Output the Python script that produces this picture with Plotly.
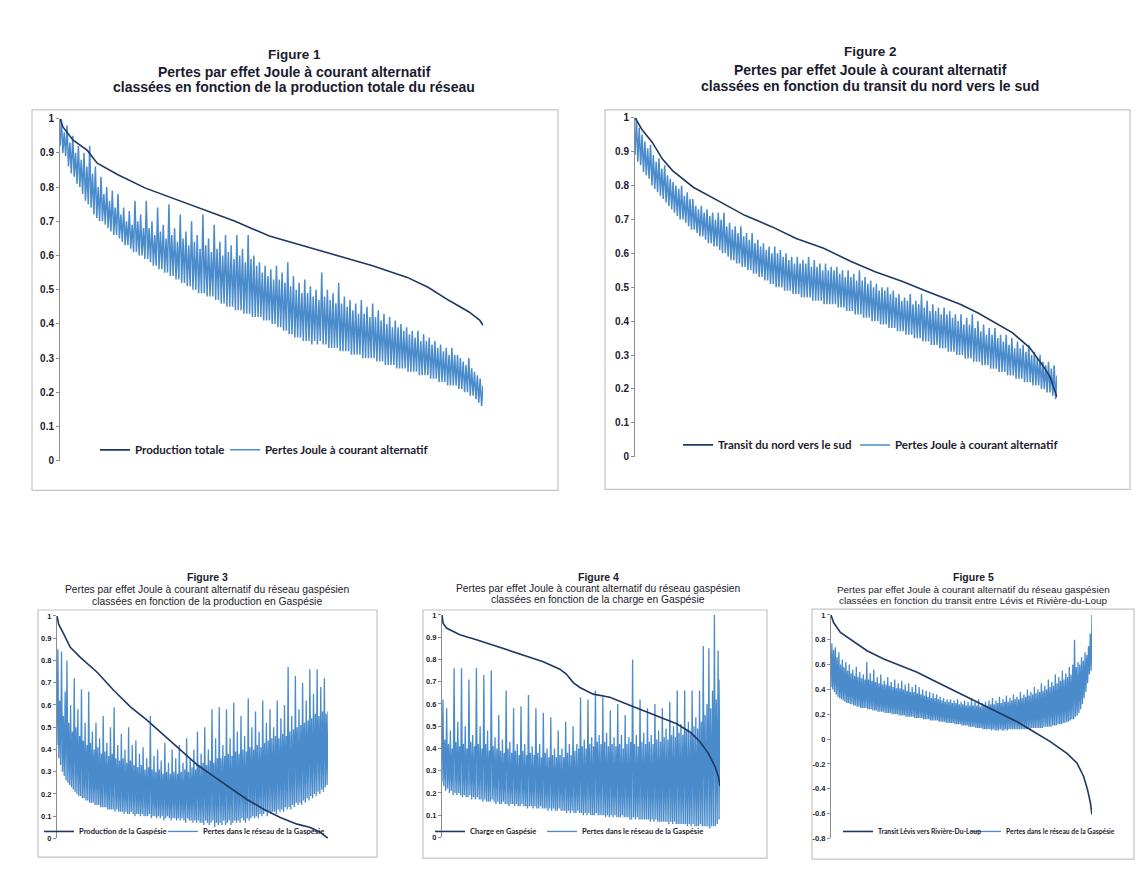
import numpy as np
import plotly.graph_objects as go

W, H = 1146, 876

# ---------------- DATA ----------------
# Figure 1 : production totale (classée) et pertes Joule
f1_prod_x = [0, 0.7, 3.1, 6.4, 8.8, 13.7, 20.2, 27.5, 34.9, 41.4, 49.5, 57.7, 65.8, 73.9, 82.1, 87.0, 91.9, 96.7, 99.2, 100]
f1_prod_y = [1.0, 0.976, 0.937, 0.908, 0.870, 0.836, 0.797, 0.763, 0.729, 0.700, 0.657, 0.628, 0.599, 0.570, 0.536, 0.507, 0.469, 0.435, 0.411, 0.396]
f1_loss = [
    .92, 1.0, .90, .96, .89, .98, .86, .93, .84, .95, .83, .90, .81, .92, .80, .88, .78, .90, .76, .86,
    .75, .92, .74, .84, .72, .86, .71, .80, .70, .83, .70, .78, .69, .80, .68, .76, .67, .79, .66, .74,
    .66, .78, .65, .72, .64, .74, .63, .70, .63, .73, .62, .69, .61, .76, .61, .70, .60, .72, .60, .68,
    .59, .76, .59, .68, .58, .70, .57, .66, .57, .74, .56, .67, .56, .69, .55, .65, .55, .75, .54, .66,
    .54, .68, .53, .64, .53, .72, .52, .65, .52, .67, .51, .63, .51, .70, .50, .64, .50, .66, .49, .62,
    .49, .72, .49, .63, .48, .65, .48, .61, .48, .69, .47, .62, .47, .64, .46, .60, .46, .66, .45, .61,
    .45, .63, .45, .59, .44, .66, .44, .60, .44, .62, .43, .58, .43, .66, .43, .59, .42, .60, .42, .57,
    .42, .58, .42, .55, .41, .57, .41, .54, .41, .56, .40, .53, .40, .57, .39, .53, .39, .55, .38, .52,
    .38, .58, .37, .51, .37, .54, .36, .50, .36, .52, .36, .49, .35, .53, .35, .49, .35, .51, .34, .48,
    .35, .50, .34, .47, .35, .55, .34, .48, .34, .50, .33, .47, .33, .49, .33, .46, .33, .52, .32, .46,
    .32, .48, .32, .45, .32, .47, .31, .44, .31, .46, .31, .43, .31, .47, .30, .43, .30, .45, .30, .42,
    .30, .46, .30, .42, .29, .44, .29, .41, .29, .43, .28, .40, .28, .42, .28, .39, .28, .41, .27, .39,
    .27, .40, .27, .38, .27, .39, .26, .37, .26, .38, .26, .36, .26, .38, .25, .35, .25, .37, .25, .35,
    .25, .36, .24, .34, .24, .35, .24, .33, .23, .34, .23, .32, .23, .33, .22, .31, .22, .33, .22, .31,
    .22, .31, .21, .30, .21, .29, .20, .28, .20, .30, .19, .27, .19, .26, .18, .25, .17, .24, .16, .22,
]

# Figure 2 : transit nord-sud (classé) et pertes Joule
f2_trans_x = [0, 1.6, 4.1, 6.5, 8.9, 13.8, 20.3, 26.0, 32.5, 38.2, 44.7, 51.2, 56.9, 63.4, 69.1, 77.2, 81.3, 85.4, 89.4, 93.5, 96.7, 98.4, 99.6, 100]
f2_trans_y = [1.0, 0.966, 0.927, 0.878, 0.844, 0.795, 0.751, 0.712, 0.678, 0.644, 0.615, 0.576, 0.546, 0.517, 0.488, 0.449, 0.424, 0.395, 0.366, 0.322, 0.268, 0.234, 0.195, 0.176]
f2_loss = [
    .89, 1.0, .87, .97, .86, .95, .84, .93, .83, .91, .82, .92, .80, .89, .79, .87, .78, .88, .77, .85,
    .76, .86, .75, .83, .74, .82, .73, .81, .72, .80, .71, .79, .70, .80, .70, .77, .69, .78, .68, .76,
    .67, .76, .67, .74, .66, .73, .65, .74, .65, .72, .64, .73, .63, .71, .63, .72, .62, .70, .62, .72,
    .61, .70, .60, .72, .60, .68, .59, .69, .58, .67, .58, .68, .57, .66, .57, .68, .56, .65, .56, .66,
    .55, .64, .55, .66, .54, .63, .54, .64, .53, .62, .53, .63, .52, .61, .52, .62, .51, .60, .51, .62,
    .50, .60, .50, .61, .50, .59, .49, .60, .49, .58, .49, .59, .48, .57, .48, .59, .48, .57, .47, .58,
    .47, .57, .47, .59, .47, .56, .46, .58, .46, .56, .46, .57, .46, .55, .45, .57, .45, .55, .45, .56,
    .45, .55, .45, .56, .44, .54, .44, .55, .44, .53, .43, .55, .43, .53, .43, .54, .42, .52, .42, .55,
    .42, .52, .41, .53, .41, .51, .41, .52, .40, .50, .40, .51, .40, .49, .39, .50, .39, .49, .39, .50,
    .38, .48, .38, .49, .38, .47, .37, .48, .37, .46, .37, .47, .36, .46, .36, .48, .36, .45, .35, .46,
    .35, .45, .35, .48, .34, .44, .34, .46, .34, .43, .33, .45, .33, .43, .33, .44, .32, .42, .32, .44,
    .32, .42, .31, .43, .31, .41, .31, .42, .30, .40, .30, .42, .30, .39, .29, .41, .29, .39, .29, .42,
    .28, .38, .28, .40, .28, .37, .27, .39, .27, .36, .27, .38, .26, .36, .26, .38, .26, .35, .25, .36,
    .25, .34, .25, .36, .24, .33, .24, .35, .24, .32, .23, .34, .23, .32, .23, .33, .22, .31, .22, .33,
    .22, .30, .21, .31, .21, .29, .21, .30, .20, .28, .20, .27, .19, .28, .19, .26, .18, .27, .17, .24,
]

# Figure 3 : production en Gaspésie (classée) et pertes du réseau gaspésien
f3_prod_x = [0, 0.6, 2.5, 4.9, 8.6, 14.8, 20.9, 27.1, 33.2, 39.4, 45.5, 51.7, 57.8, 64.0, 70.1, 76.3, 82.4, 88.6, 93.5, 97.2, 100]
f3_prod_y = [1.0, 0.963, 0.918, 0.859, 0.814, 0.747, 0.666, 0.591, 0.532, 0.465, 0.398, 0.331, 0.279, 0.227, 0.175, 0.131, 0.094, 0.064, 0.049, 0.027, 0.0]
f3_loss = [
    .42, .85, .36, .62, .33, .84, .30, .55, .28, .66, .26, .80, .25, .52, .24, .60, .23, .48, .22, .72,
    .21, .50, .20, .58, .19, .46, .19, .67, .18, .44, .18, .52, .17, .42, .17, .66, .16, .43, .16, .48,
    .16, .40, .15, .52, .15, .41, .15, .45, .14, .38, .14, .55, .14, .39, .14, .43, .13, .37, .13, .50,
    .13, .38, .13, .59, .12, .36, .13, .42, .12, .35, .12, .47, .12, .36, .11, .40, .12, .34, .11, .50,
    .11, .35, .12, .42, .11, .33, .10, .44, .11, .32, .11, .38, .10, .33, .11, .41, .10, .31, .10, .36,
    .10, .32, .11, .55, .09, .31, .10, .37, .10, .30, .09, .40, .10, .31, .09, .35, .10, .29, .08, .43,
    .09, .30, .10, .34, .09, .29, .08, .40, .09, .30, .09, .36, .08, .29, .09, .42, .08, .30, .09, .34,
    .08, .31, .07, .45, .09, .30, .08, .36, .08, .32, .07, .40, .08, .31, .07, .48, .08, .33, .07, .38,
    .07, .34, .06, .50, .08, .33, .07, .40, .06, .35, .07, .58, .08, .34, .05, .45, .07, .36, .06, .59,
    .07, .36, .06, .42, .08, .37, .06, .58, .07, .38, .08, .45, .06, .37, .07, .61, .08, .39, .07, .48,
    .08, .38, .07, .55, .09, .40, .08, .46, .07, .39, .09, .63, .08, .41, .09, .50, .10, .40, .09, .57,
    .10, .42, .09, .48, .11, .41, .10, .62, .11, .43, .12, .52, .10, .44, .12, .58, .11, .45, .12, .50,
    .12, .46, .11, .62, .13, .45, .12, .54, .13, .47, .12, .60, .14, .46, .13, .77, .14, .48, .13, .55,
    .15, .49, .14, .73, .16, .50, .15, .58, .16, .51, .15, .70, .17, .52, .16, .62, .18, .53, .17, .76,
    .19, .54, .18, .65, .20, .56, .19, .76, .21, .55, .20, .68, .22, .57, .21, .72, .23, .56, .24, .57,
]

# Figure 4 : charge en Gaspésie (classée) et pertes du réseau gaspésien
f4_load_x = [0, 0.4, 1.6, 6.4, 12.4, 18.4, 24.4, 30.4, 36.4, 42.4, 44.8, 47.2, 49.6, 54.4, 60.4, 66.4, 72.4, 78.4, 84.4, 89.2, 92.8, 95.8, 98.2, 99.4, 100]
f4_load_y = [1.0, 0.963, 0.941, 0.911, 0.889, 0.864, 0.837, 0.815, 0.790, 0.756, 0.733, 0.696, 0.674, 0.644, 0.630, 0.600, 0.570, 0.541, 0.511, 0.474, 0.430, 0.378, 0.319, 0.274, 0.230]
f4_loss = [
    .25, .62, .23, .44, .21, .58, .22, .42, .20, .48, .21, .40, .19, .76, .20, .43, .19, .52, .20, .41,
    .19, .76, .18, .42, .19, .50, .18, .40, .18, .71, .19, .43, .17, .46, .18, .41, .17, .76, .18, .42,
    .17, .50, .17, .40, .16, .73, .17, .42, .16, .48, .16, .39, .16, .75, .17, .41, .16, .45, .15, .40,
    .16, .55, .15, .39, .15, .44, .16, .38, .15, .66, .15, .40, .14, .43, .15, .38, .15, .58, .14, .39,
    .15, .42, .14, .37, .14, .59, .15, .39, .14, .42, .14, .37, .13, .64, .14, .38, .14, .41, .13, .37,
    .14, .58, .13, .38, .13, .42, .14, .36, .13, .56, .13, .38, .13, .40, .12, .36, .13, .54, .12, .37,
    .13, .40, .12, .36, .12, .48, .13, .37, .12, .40, .12, .36, .12, .52, .11, .38, .12, .42, .11, .37,
    .12, .50, .11, .39, .11, .42, .12, .40, .11, .63, .11, .41, .10, .44, .11, .40, .10, .62, .11, .42,
    .10, .45, .10, .41, .10, .66, .11, .43, .10, .46, .10, .42, .10, .63, .10, .43, .09, .47, .10, .41,
    .09, .57, .10, .42, .09, .45, .10, .41, .09, .60, .09, .42, .09, .46, .10, .40, .09, .55, .09, .42,
    .09, .45, .08, .43, .08, .80, .09, .42, .08, .46, .09, .41, .08, .62, .08, .43, .08, .47, .08, .42,
    .08, .58, .08, .43, .07, .46, .08, .42, .07, .60, .08, .44, .07, .48, .07, .43, .07, .58, .07, .45,
    .07, .49, .07, .44, .06, .61, .07, .46, .06, .50, .07, .45, .06, .66, .06, .47, .06, .51, .06, .46,
    .06, .66, .06, .48, .05, .52, .06, .47, .05, .66, .06, .50, .05, .54, .05, .49, .05, .66, .06, .52,
    .05, .86, .05, .55, .05, .60, .05, .85, .04, .58, .05, .66, .05, 1.0, .05, .62, .06, .84, .08, .71,
]

# Figure 5 : transit Lévis - Rivière-du-Loup (classé) et pertes du réseau gaspésien
f5_trans_x = [0, 1.0, 3.6, 7.4, 13.8, 20.2, 26.6, 33.0, 39.3, 45.7, 52.1, 58.5, 64.9, 71.3, 77.7, 84.0, 90.4, 94.3, 96.8, 98.3, 99.4, 100]
f5_trans_y = [1.0, 0.939, 0.859, 0.805, 0.712, 0.645, 0.592, 0.539, 0.472, 0.405, 0.339, 0.272, 0.205, 0.139, 0.059, -0.021, -0.115, -0.195, -0.301, -0.408, -0.515, -0.608]
f5_loss = [
    .42, .77, .40, .72, .38, .74, .36, .66, .34, .70, .33, .60, .32, .64, .31, .58, .30, .62, .29, .55,
    .29, .60, .28, .53, .28, .56, .27, .51, .27, .58, .26, .50, .26, .54, .25, .49, .25, .52, .25, .48,
    .25, .62, .24, .48, .24, .53, .24, .47, .23, .56, .23, .46, .23, .50, .22, .45, .22, .52, .22, .44,
    .22, .47, .21, .44, .21, .50, .21, .43, .21, .46, .20, .42, .20, .48, .20, .41, .20, .45, .19, .41,
    .19, .47, .19, .40, .19, .44, .18, .39, .18, .45, .18, .38, .18, .42, .18, .38, .17, .44, .17, .37,
    .17, .42, .17, .36, .17, .40, .16, .35, .16, .39, .16, .34, .16, .38, .15, .33, .15, .37, .15, .33,
    .15, .36, .15, .32, .14, .34, .14, .31, .14, .33, .14, .30, .13, .32, .13, .30, .13, .32, .13, .29,
    .13, .31, .12, .29, .12, .32, .12, .28, .12, .30, .11, .28, .11, .31, .11, .27, .11, .30, .10, .27,
    .10, .33, .10, .27, .10, .30, .09, .27, .09, .32, .09, .26, .09, .29, .08, .27, .08, .30, .08, .27,
    .08, .31, .08, .28, .07, .33, .08, .28, .07, .31, .07, .29, .07, .34, .08, .29, .07, .32, .07, .30,
    .08, .35, .07, .30, .08, .33, .08, .31, .08, .36, .08, .32, .08, .34, .08, .32, .08, .38, .08, .33,
    .08, .36, .08, .34, .08, .40, .09, .35, .08, .38, .09, .36, .09, .42, .09, .37, .09, .40, .09, .38,
    .09, .45, .09, .39, .10, .43, .10, .40, .10, .48, .10, .42, .10, .46, .11, .43, .11, .52, .11, .45,
    .12, .50, .12, .47, .12, .55, .13, .48, .13, .53, .14, .50, .14, .58, .15, .52, .16, .60, .16, .80,
    .18, .58, .19, .62, .21, .60, .24, .66, .28, .63, .33, .70, .38, .68, .45, .75, .52, .85, .55, 1.0,
]

y_ticks_01 = [0, 0.1, 0.2, 0.3, 0.4, 0.5, 0.6, 0.7, 0.8, 0.9, 1]
y_ticks_5 = [1, 0.8, 0.6, 0.4, 0.2, 0, -0.2, -0.4, -0.6, -0.8]

titles = [
    ("Figure 1", "Pertes par effet Joule à courant alternatif", "classées en fonction de la production totale du réseau"),
    ("Figure 2", "Pertes par effet Joule à courant alternatif", "classées en fonction du transit du nord vers le sud"),
    ("Figure 3", "Pertes par effet Joule à courant alternatif du réseau gaspésien", "classées en fonction de la production en Gaspésie"),
    ("Figure 4", "Pertes par effet Joule à courant alternatif du réseau gaspésien", "classées en fonction de la charge en Gaspésie"),
    ("Figure 5", "Pertes par effet Joule à courant alternatif du réseau gaspésien", "classées en fonction du transit entre Lévis et Rivière-du-Loup"),
]
names_line = ["Production totale", "Transit du nord vers le sud", "Production de la Gaspésie",
              "Charge en Gaspésie", "Transit Lévis vers Rivière-Du-Loup"]
names_loss = ["Pertes Joule à courant alternatif", "Pertes Joule à courant alternatif",
              "Pertes dans le réseau de la Gaspésie", "Pertes dans le réseau de la Gaspésie",
              "Pertes dans le réseau de la Gaspésie"]

line_x = [f1_prod_x, f2_trans_x, f3_prod_x, f4_load_x, f5_trans_x]
line_y = [f1_prod_y, f2_trans_y, f3_prod_y, f4_load_y, f5_trans_y]
losses = [f1_loss, f2_loss, f3_loss, f4_loss, f5_loss]

# ---------------- LAYOUT (pixels) ----------------
def px(x):
    return x / W

def py(y):
    return 1 - y / H

panels = [
    dict(x0=60, x1=483, ytop=115, ybot=461, box=(32, 106, 558, 491), tcx=294, ty=(50, 68, 83),
         tsz=(13.5, 14), tbold=True, leg_y=450, leg_tx=(135, 265), leg_fs=11.5, tick_fs=10, yr=(0, 1),
         bw=1.5),
    dict(x0=635, x1=1057, ytop=114, ybot=457, box=(605, 106, 1130, 490), tcx=870, ty=(47, 66, 82),
         tsz=(13.5, 14), tbold=True, leg_y=445, leg_tx=(718, 895), leg_fs=11.5, tick_fs=10, yr=(0, 1),
         bw=1.5),
    dict(x0=57, x1=328, ytop=618, ybot=843, box=(38, 612, 377, 862), tcx=207, ty=(579, 591, 603),
         tsz=(10.5, 10.3), tbold=False, leg_y=836, leg_tx=(79, 203), leg_fs=7.6, tick_fs=7.5, yr=(0, 1),
         bw=1.3),
    dict(x0=442, x1=720, ytop=617, ybot=842, box=(423, 612, 767, 863), tcx=598, ty=(579, 590, 601),
         tsz=(10.5, 10.3), tbold=False, leg_y=836, leg_tx=(470, 582), leg_fs=7.6, tick_fs=7.5, yr=(0, 1),
         bw=1.3),
    dict(x0=831, x1=1092, ytop=617, ybot=843, box=(812, 611, 1134, 864), tcx=973, ty=(579, 591, 602),
         tsz=(10.5, 9.9), tbold=False, leg_y=836, leg_tx=(878, 1006), leg_fs=6.8, tick_fs=7.5, yr=(-0.8, 1),
         bw=1.3),
]

DARK = "#1F3864"
BLUE = "#4A8BCB"
TXT = "#1b1b2e"
AX = "#8c8c8c"

fig = go.Figure()
layout = dict(
    width=W, height=H, margin=dict(l=0, r=0, t=0, b=0),
    paper_bgcolor="white", plot_bgcolor="rgba(0,0,0,0)",
    showlegend=True, shapes=[], annotations=[],
    font=dict(family="Liberation Sans, Arial, sans-serif", color=TXT),
)

for i, p in enumerate(panels):
    k = i + 1
    xa = "x" if k == 1 else f"x{k}"
    ya = "y" if k == 1 else f"y{k}"
    leg_a = "legend" if i == 0 else f"legend{2 * i + 1}"
    leg_b = f"legend{2 * i + 2}"

    n = len(losses[i])
    fig.add_trace(go.Scatter(
        x=np.linspace(0, 100, n), y=losses[i], mode="lines", name=names_loss[i],
        line=dict(color=BLUE, width=p["bw"]), xaxis=xa, yaxis=ya, legend=leg_b, hoverinfo="skip"))
    fig.add_trace(go.Scatter(
        x=line_x[i], y=line_y[i], mode="lines", name=names_line[i],
        line=dict(color=DARK, width=1.6), xaxis=xa, yaxis=ya, legend=leg_a, hoverinfo="skip"))

    xkey = "xaxis" if k == 1 else f"xaxis{k}"
    ykey = "yaxis" if k == 1 else f"yaxis{k}"
    layout[xkey] = dict(domain=[px(p["x0"]), px(p["x1"])], range=[0, 100], visible=False,
                        anchor=ya, fixedrange=True)
    tv = y_ticks_01 if p["yr"] == (0, 1) else y_ticks_5
    layout[ykey] = dict(
        domain=[py(p["ybot"]), py(p["ytop"])], range=list(p["yr"]), anchor=xa,
        showgrid=False, zeroline=False, showline=True, linecolor=AX, linewidth=1,
        ticks="outside", ticklen=3, tickcolor=AX, tickwidth=1,
        tickvals=tv, ticktext=[f"{v:g}" for v in tv],
        tickfont=dict(size=p["tick_fs"], family="Liberation Sans, Arial", color=TXT, weight="bold"),
        fixedrange=True)

    # chart border
    bx0, by0, bx1, by1 = p["box"]
    layout["shapes"].append(dict(type="rect", xref="paper", yref="paper",
                                 x0=px(bx0), x1=px(bx1), y0=py(by1), y1=py(by0),
                                 line=dict(color="#c4c4c4", width=1.2), fillcolor="rgba(0,0,0,0)",
                                 layer="below"))

    # titles
    for j, line in enumerate(titles[i]):
        size = p["tsz"][0] if j == 0 else p["tsz"][1]
        bold = (j == 0) or p["tbold"]
        layout["annotations"].append(dict(
            xref="paper", yref="paper", x=px(p["tcx"]), y=py(p["ty"][j]),
            xanchor="center", yanchor="middle", showarrow=False, text=line,
            font=dict(size=size, family="Liberation Sans, Arial", color=TXT,
                      weight="bold" if bold else "normal")))

    # legends
    for leg, tx in ((leg_a, p["leg_tx"][0]), (leg_b, p["leg_tx"][1])):
        layout[leg] = dict(
            x=px(tx - 40), y=py(p["leg_y"]), xanchor="left", yanchor="middle",
            orientation="h", bgcolor="rgba(0,0,0,0)", borderwidth=0, itemwidth=30,
            font=dict(size=p["leg_fs"], family="Lato, Liberation Sans", color=TXT, weight="bold"),
            itemclick=False, itemdoubleclick=False)

fig.update_layout(**layout)
fig.write_html("out.html", config={"displayModeBar": False},
               post_script="document.body.style.margin='0';document.body.style.overflow='hidden';")
